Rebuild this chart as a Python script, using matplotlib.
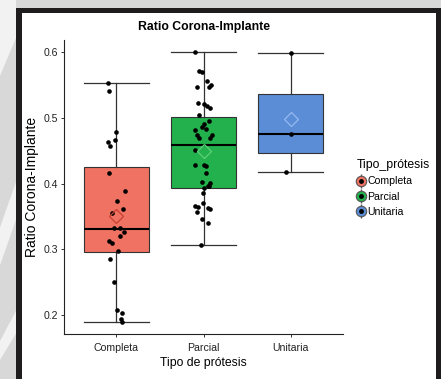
import matplotlib
matplotlib.use("Agg")
import matplotlib.pyplot as plt
from matplotlib.lines import Line2D
from matplotlib.patches import Rectangle, Polygon

plt.rcParams["font.family"] = ["Liberation Sans", "DejaVu Sans"]

categories = ["Completa", "Parcial", "Unitaria"]
fill_colors = ["#F07262", "#22B14C", "#5B8DD6"]
mean_edge_colors = ["#C8402E", "#5ED07A", "#94BAF0"]

# box summary
whisker_low = [0.190, 0.306, 0.418]
q1 = [0.2956, 0.393, 0.4463]
median = [0.3316, 0.4594, 0.4756]
q3 = [0.425, 0.5015, 0.5365]
whisker_high = [0.554, 0.600, 0.599]
means = [0.351, 0.450, 0.4985]

# jittered observations: (horizontal jitter, value)
completa_pts = [
    (-0.096, 0.554), (-0.085, 0.541), (0.000, 0.479), (-0.096, 0.464),
    (-0.069, 0.458), (-0.011, 0.4665), (-0.085, 0.416), (0.095, 0.389),
    (0.011, 0.373), (0.076, 0.362), (-0.050, 0.355), (-0.027, 0.332),
    (0.046, 0.332), (0.087, 0.326), (0.038, 0.320), (-0.088, 0.313),
    (-0.050, 0.310), (0.018, 0.298), (-0.077, 0.286), (-0.027, 0.251),
    (0.007, 0.208), (0.069, 0.203), (0.057, 0.194), (0.061, 0.190),
]
parcial_pts = [
    (-0.095, 0.600), (-0.046, 0.572), (-0.019, 0.5695), (-0.072, 0.548),
    (0.042, 0.556), (0.084, 0.551), (0.061, 0.548), (-0.065, 0.523),
    (0.011, 0.522), (0.038, 0.518), (0.069, 0.515), (-0.057, 0.5045),
    (0.061, 0.496), (0.003, 0.491), (-0.015, 0.487), (-0.092, 0.482),
    (-0.072, 0.474), (0.023, 0.483), (0.095, 0.475), (0.069, 0.469),
    (-0.046, 0.469), (-0.092, 0.451), (-0.095, 0.4285), (0.003, 0.4285),
    (0.031, 0.427), (0.023, 0.4167), (-0.019, 0.403), (0.069, 0.4015),
    (0.049, 0.397), (0.011, 0.393), (-0.008, 0.3855), (0.062, 0.396),
    (-0.095, 0.3665), (-0.065, 0.365), (-0.008, 0.370), (-0.072, 0.3565),
    (0.057, 0.3625), (0.077, 0.361), (-0.019, 0.346), (0.049, 0.340),
    (-0.023, 0.3067),
]
unitaria_pts = [(0.000, 0.599), (0.000, 0.4756), (-0.050, 0.418)]
points = [completa_pts, parcial_pts, unitaria_pts]

yticks = [0.2, 0.3, 0.4, 0.5, 0.6]

fig = plt.figure(figsize=(4.41, 3.79), dpi=100)
fig.patch.set_facecolor("#d8d8d8")

# page background: light swooshes, black frame, white sheet
W, H = 441, 379
for poly in [
    [(0, 0.80), (16, 0.90), (16, 1.0), (0, 1.0)],
    [(0, 0.30), (16, 0.42), (16, 0.52), (0, 0.40)],
    [(0, 0.05), (16, 0.12), (16, 0.18), (0, 0.10)],
]:
    fig.patches.append(Polygon([(x / W, y) for x, y in poly], closed=True,
                               transform=fig.transFigure, facecolor="#f2f2f2",
                               edgecolor="none", zorder=-12))
fig.patches.append(Rectangle((16 / W, 0), 1 - 16 / W, 1 - 8 / H,
                             transform=fig.transFigure, facecolor="#1e1c1c",
                             edgecolor="none", zorder=-11))
fig.patches.append(Rectangle((22 / W, 0), (436 - 22) / W, 1 - 13 / H,
                             transform=fig.transFigure, facecolor="white",
                             edgecolor="none", zorder=-10))

ax = fig.add_axes([64 / W, 1 - 334 / H, (343 - 64) / W, (334 - 40) / H])
ax.set_facecolor("none")

positions = [1, 2, 3]
stats = [
    dict(whislo=lo, q1=a, med=m, q3=b, whishi=hi, fliers=[], label=c)
    for lo, a, m, b, hi, c in zip(whisker_low, q1, median, q3, whisker_high, categories)
]
bp = ax.bxp(stats, positions=positions, widths=0.75, capwidths=0.75,
            patch_artist=True, showfliers=False,
            boxprops=dict(edgecolor="#333333", linewidth=0.8),
            whiskerprops=dict(color="#333333", linewidth=0.9),
            capprops=dict(color="#333333", linewidth=0.9),
            medianprops=dict(color="black", linewidth=1.5))
for box, col in zip(bp["boxes"], fill_colors):
    box.set_facecolor(col)

for pos, pts in zip(positions, points):
    ax.scatter([pos + dx for dx, _ in pts], [v for _, v in pts],
               s=11, color="black", zorder=4, linewidths=0)

for pos, m, ec in zip(positions, means, mean_edge_colors):
    ax.plot(pos, m, marker="D", ms=7, mfc="none", mec=ec, mew=0.9, zorder=5)

ax.set_xlim(0.4, 3.6)
ax.set_ylim(0.171, 0.619)
ax.set_xticks(positions, categories)
ax.set_yticks(yticks, [f"{t:.1f}" for t in yticks])
ax.tick_params(axis="both", length=2.5, width=0.7, color="#333333",
               labelsize=7.6, labelcolor="#222222", pad=2)
ax.tick_params(axis="x", pad=4)
for side in ("top", "right"):
    ax.spines[side].set_visible(False)
for side in ("left", "bottom"):
    ax.spines[side].set_linewidth(0.8)
    ax.spines[side].set_color("#222222")

ax.set_title("Ratio Corona-Implante", fontsize=8.8, fontweight="bold", pad=7)
ax.set_xlabel("Tipo de prótesis", fontsize=8.8, labelpad=3)
ax.set_ylabel("Ratio Corona-Implante", fontsize=10)
ax.yaxis.set_label_coords(-0.088, 0.5)

handles = []
for col, ec in zip(fill_colors, mean_edge_colors):
    handles.append((
        Line2D([], [], marker="|", ms=10, color="#555555", ls="none"),
        Line2D([], [], marker="o", ms=7.5, mfc=col, mec="#555555", mew=0.8, ls="none"),
        Line2D([], [], marker="o", ms=2.5, color="black", ls="none"),
    ))
leg = fig.legend(handles, categories, title="Tipo_prótesis",
                 loc="upper left", bbox_to_anchor=(357 / W, 1 - 159 / H),
                 frameon=False, fontsize=7.6, title_fontsize=8.8,
                 handlelength=0.7, handletextpad=0.25, labelspacing=0.5,
                 borderpad=0, borderaxespad=0)
leg._legend_box.align = "left"

fig.savefig("out.png", dpi=100)
